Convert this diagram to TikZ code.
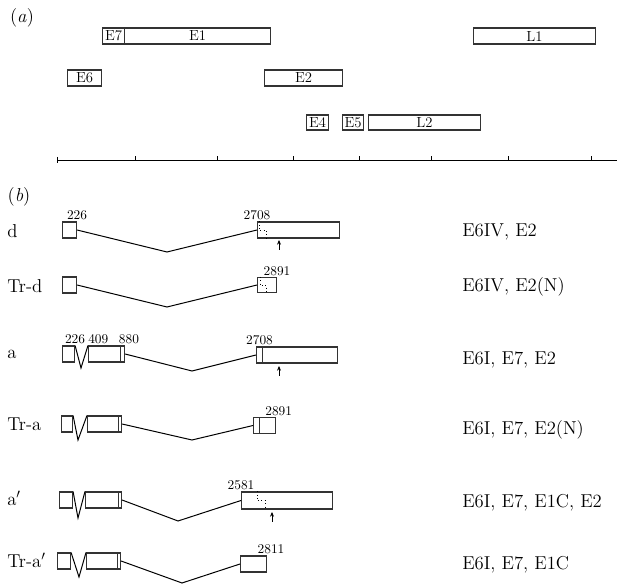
\documentclass[tikz,border=0pt]{standalone}
\usepackage{fontspec}
\usetikzlibrary{arrows.meta,positioning,calc}
\tikzset{
  >={Stealth[length=3.5pt,width=3pt]},
  exon/.style={draw=black!80,line width=0.8pt,inner sep=0pt,anchor=west,
    minimum height=12pt,font=\fontsize{11}{13}\selectfont},
  intron/.style={line width=0.75pt},
  axis/.style={line width=0.7pt},
  coordlabel/.style={font=\fontsize{10}{12}\selectfont,inner sep=1pt,anchor=south},
  rowname/.style={font=\fontsize{14}{16}\selectfont,anchor=west,inner sep=0pt},
  exonlist/.style={font=\fontsize{14}{16}\selectfont,anchor=west,inner sep=0pt},
  panel/.style={font=\fontsize{14}{16}\selectfont,inner sep=0pt},
  startmark/.style={dotted,line width=0.5pt},
  sitemark/.style={->,line width=0.6pt},
}
\begin{document}
\begin{tikzpicture}[x=0.75pt,y=-0.75pt]
\useasboundingbox (0,0) rectangle (626,584);
% (a) exon map
\node[panel] (pa) at (22,18) {(\textit{a})};
\node[exon,minimum width=16.5pt] (e7) at (102,36) {E7};
\node[exon,minimum width=109.5pt] (e1) at (124,36) {E1};
\node[exon,minimum width=91.5pt] (l1) at (473,36) {L1};
\node[exon,minimum width=25.5pt] (e6) at (67,78) {E6};
\node[exon,minimum width=58.5pt] (e2) at (264,78) {E2};
\node[exon,minimum width=16.5pt,minimum height=11.25pt] (e4) at (306,122.5) {E4};
\node[exon,minimum width=15.75pt,minimum height=11.25pt] (e5) at (342,122.5) {E5};
\node[exon,minimum width=84pt,minimum height=11.25pt] (l2) at (368,122.5) {L2};
\draw[axis] (57,160) -- (617,160);
\draw[axis] (57,157) -- (57,163);
\foreach \x in {135,217,293,359,431,508,591} \draw[axis] (\x,160) -- (\x,156);
% (b) transcripts
\node[panel] (pb) at (19,197) {(\textit{b})};
% d
\node[rowname] (nd) at (7,231) {d};
\node[exon,minimum width=10.5pt] (d1) at (62,230) {};
\node[exon,minimum width=61.5pt] (d2) at (257,230) {};
\coordinate (d-dip) at (167,252);
\draw[intron] (d1.east) -- (d-dip) -- (d2.west);
\node[coordlabel] at (d1.north east) {226};
\node[coordlabel] at (d2.north west) {2708};
\draw[startmark] ($(d2.north west)+(2,0)$) |- ($(d2.west)+(9,0)$) -- ($(d2.south west)+(9,0)$);
\draw[sitemark] (279,250) -- (279,240);
\node[exonlist] (xd) at (462,232) {E6IV, E2};
% Tr-d
\node[rowname] (ntd) at (7,286) {Tr-d};
\node[exon,minimum width=10.5pt] (td1) at (62,285) {};
\node[exon,minimum width=14.25pt,minimum height=11.25pt] (td2) at (257,285) {};
\coordinate (td-dip) at (167,307);
\draw[intron] (td1.east) -- (td-dip) -- (td2.west);
\node[coordlabel] at (td2.north east) {2891};
\draw[startmark] ($(td2.north west)+(3,0)$) |- ($(td2.west)+(9,0)$) -- ($(td2.south west)+(9,0)$);
\node[exonlist] (xtd) at (462,287) {E6IV, E2(N)};
% a
\node[rowname] (na) at (7,354) {a};
\node[exon,minimum width=9pt] (a1) at (62,354) {};
\node[exon,minimum width=24pt] (a2) at (88,354) {};
\node[exon,minimum width=3pt] (a3) at (120,354) {};
\node[exon,minimum width=4.5pt] (a4) at (256,355) {};
\node[exon,minimum width=56.25pt] (a5) at (262,355) {};
\coordinate (a-v) at (81,368);
\coordinate (a-dip) at (192,371);
\draw[intron] (a1.north east) -- (a-v) -- (a2.north west);
\draw[intron] (a3.east) -- (a-dip) -- (a4.west);
\node[coordlabel] at (a1.north east) {226};
\node[coordlabel,anchor=south west] at ([xshift=-1pt]a2.north west) {409};
\node[coordlabel,anchor=south west] at ([xshift=-2pt]a3.north west) {880};
\node[coordlabel] at (a4.north) {2708};
\draw[sitemark] (279,376) -- (279,366);
\node[exonlist] (xa) at (462,360) {E6I, E7, E2};
% Tr-a
\node[rowname] (nta) at (7,424) {Tr-a};
\node[exon,minimum width=8.25pt] (ta1) at (61,424) {};
\node[exon,minimum width=23.25pt] (ta2) at (87,424) {};
\node[exon,minimum width=2.25pt] (ta3) at (118,424) {};
\node[exon,minimum width=4.5pt] (ta4) at (253,425.5) {};
\node[exon,minimum width=12pt] (ta5) at (259,425.5) {};
\coordinate (ta-v) at (78,440);
\coordinate (ta-dip) at (192,440);
\draw[intron] (ta1.north east) -- (ta-v) -- (ta2.north west);
\draw[intron] (ta3.east) -- (ta-dip) -- (ta4.west);
\node[coordlabel] at ([xshift=2pt]ta5.north east) {2891};
\node[exonlist] (xta) at (462,430) {E6I, E7, E2(N)};
% a'
\node[rowname] (np) at (7,498) {a$'$};
\node[exon,minimum width=9.75pt] (p1) at (59,500) {};
\node[exon,minimum width=24.75pt] (p2) at (85,500) {};
\node[exon,minimum width=2.25pt] (p3) at (118,500) {};
\node[exon,minimum width=68.25pt,minimum height=12.75pt] (p4) at (241,500.5) {};
\coordinate (p-v) at (78,518);
\coordinate (p-dip) at (178,521);
\draw[intron] (p1.north east) -- (p-v) -- (p2.north west);
\draw[intron] (p3.east) -- (p-dip) -- (p4.west);
\node[coordlabel] at (p4.north west) {2581};
\draw[startmark] ($(p4.north west)+(16,0)$) |- ($(p4.west)+(24,0)$) -- ($(p4.south west)+(24,0)$);
\draw[sitemark] (272,522) -- (272,512);
\node[exonlist] (xp) at (462,503) {E6I, E7, E1C, E2};
% Tr-a'
\node[rowname] (ntp) at (7,560) {Tr-a$'$};
\node[exon,minimum width=9.75pt] (tp1) at (57,561) {};
\node[exon,minimum width=23.25pt] (tp2) at (86,561) {};
\node[exon,minimum width=2.25pt] (tp3) at (117,561) {};
\node[exon,minimum width=19.5pt] (tp4) at (240,564) {};
\coordinate (tp-v) at (79,577);
\coordinate (tp-dip) at (182,583);
\draw[intron] (tp1.north east) -- (tp-v) -- (tp2.north west);
\draw[intron] (tp3.east) -- (tp-dip) -- (tp4.west);
\node[coordlabel] at ([xshift=3pt]tp4.north east) {2811};
\node[exonlist] (xtp) at (462,565) {E6I, E7, E1C};
\end{tikzpicture}
\end{document}
